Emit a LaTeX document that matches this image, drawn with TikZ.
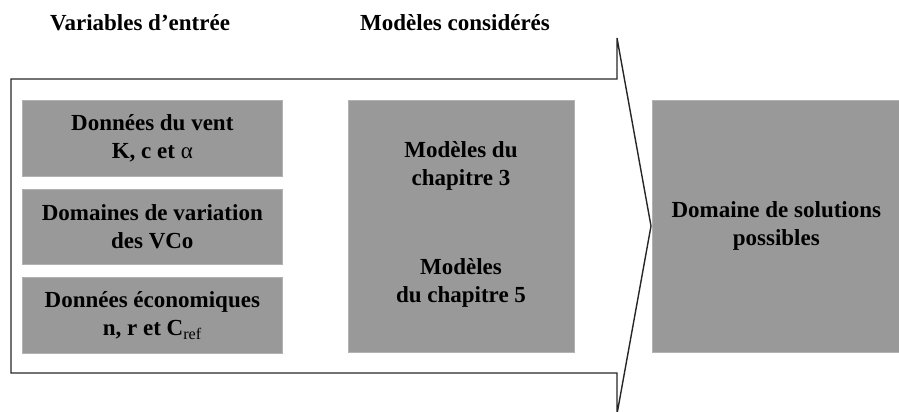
\documentclass[tikz,border=0pt]{standalone}
\usepackage{fontspec}
\setmainfont{Liberation Serif}
\usetikzlibrary{positioning}

\begin{document}
\begin{tikzpicture}[x=1pt,y=-1pt,line width=1.4pt,
  font=\fontsize{23}{28}\selectfont\bfseries,
  graybox/.style={fill=black!40,draw=black!30,line width=0.6pt,align=center,
    inner sep=0pt,anchor=north west},
  headtxt/.style={anchor=base}]
\useasboundingbox (0,0) rectangle (899,412);
% block arrow
\coordinate (a1) at (11,79);
\coordinate (a2) at (617,79);
\coordinate (a3) at (617,38);
\coordinate (tip) at (651,226);
\coordinate (a4) at (617,414);
\coordinate (a5) at (617,373);
\coordinate (a6) at (11,373);
\draw[black!85,line join=miter] (a1) -- (a2) -- (a3) -- (tip) -- (a4) -- (a5) -- (a6) -- cycle;
% headings
\node[headtxt] (varin) at (140,31) {Variables d’entrée};
\node[headtxt] (models) at (455,31) {Modèles considérés};
% input boxes
\node[graybox,minimum width=260,minimum height=76] (wind) at (22,100)
  {Données du vent\\K, c et {\mdseries α}};
\node[graybox,minimum width=260,minimum height=75,below=12pt of wind.south west,anchor=north west] (vco)
  {Domaines de variation\\des VCo};
\node[graybox,minimum width=260,minimum height=76,below=13pt of vco.south west,anchor=north west] (eco)
  {Données économiques\\n, r et C\textsubscript{\mdseries ref}};
% models box
\node[graybox,minimum width=226,minimum height=252] (chap) at (348,100) {};
\node[align=center] (chap3) at (461,166) {Modèles du\\chapitre 3};
\node[align=center] (chap5) at (461,283) {Modèles\\du chapitre 5};
% result box
\node[graybox,minimum width=248,minimum height=252] (sol) at (652,100)
  {Domaine de solutions\\possibles};
\end{tikzpicture}
\end{document}
